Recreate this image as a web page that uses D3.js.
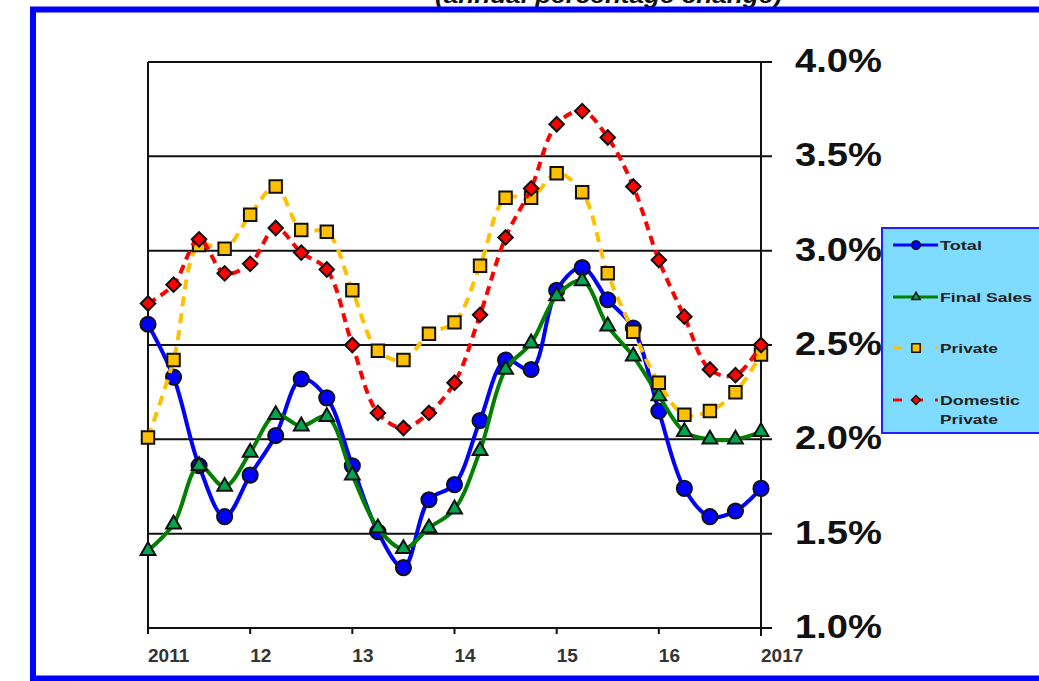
<!DOCTYPE html>
<html>
<head>
<meta charset="utf-8">
<script src="https://cdn.jsdelivr.net/npm/d3@7"></script>
<style>
  body { margin: 0; background: #fff; }
  svg { display: block; font-family: "Liberation Sans", Arial, sans-serif; }
</style>
</head>
<body>
<div id="chart"></div>
<script>
// quarterly values, 2011 Q1 .. 2017 Q1
const quarters = d3.range(25).map(i => 2011 + i * 0.25)
const total = [2.61, 2.33, 1.86, 1.59, 1.81, 2.02, 2.32, 2.22, 1.86, 1.51, 1.32, 1.68, 1.76, 2.10, 2.42, 2.37, 2.79, 2.91, 2.74, 2.59, 2.15, 1.74, 1.59, 1.62, 1.74]
const finalSales = [1.41, 1.55, 1.86, 1.75, 1.93, 2.13, 2.07, 2.12, 1.81, 1.53, 1.42, 1.53, 1.63, 1.94, 2.37, 2.51, 2.76, 2.84, 2.60, 2.44, 2.23, 2.04, 2.00, 2.00, 2.04]
const privateD = [2.01, 2.42, 3.03, 3.01, 3.19, 3.34, 3.11, 3.10, 2.79, 2.47, 2.42, 2.56, 2.62, 2.92, 3.28, 3.28, 3.41, 3.31, 2.88, 2.57, 2.30, 2.13, 2.15, 2.25, 2.45]
const domestic = [2.72, 2.82, 3.06, 2.88, 2.93, 3.12, 2.99, 2.90, 2.50, 2.14, 2.06, 2.14, 2.30, 2.66, 3.07, 3.33, 3.67, 3.74, 3.60, 3.34, 2.95, 2.65, 2.37, 2.34, 2.50]

const xTicks = [2011, 2012, 2013, 2014, 2015, 2016, 2017]
const xTickLabels = ['2011', '12', '13', '14', '15', '16', '2017']
const yTicks = [1.0, 1.5, 2.0, 2.5, 3.0, 3.5, 4.0]

const W = 1039, H = 681

let svg = d3.select('#chart').append('svg')
    .attr('width', W)
    .attr('height', H)

let x = d3.scaleLinear().domain([2011, 2017]).range([148, 761])
let y = d3.scaleLinear().domain([1, 4]).range([628, 62])

// title, cut off by the top of the page
svg.append('text')
    .attr('x', 435).attr('y', 3)
    .attr('textLength', 347)
    .attr('lengthAdjust', 'spacingAndGlyphs')
    .style('font-size', '22px')
    .style('font-weight', 'bold')
    .style('font-style', 'italic')
    .attr('fill', '#111')
    .text('(annual percentage change)')

// blue frame
svg.append('rect')
    .attr('x', 33).attr('y', 9.5)
    .attr('width', 1100).attr('height', 669)
    .attr('fill', 'none')
    .attr('stroke', '#0000ff')
    .attr('stroke-width', 6)

let plot = svg.append('g')

// gridlines + right ticks
plot.selectAll('line.grid')
    .data(yTicks.slice(1))
    .join('line')
    .attr('class', 'grid')
    .attr('x1', x(2011)).attr('x2', x(2017) + 11)
    .attr('y1', d => y(d)).attr('y2', d => y(d))
    .attr('stroke', '#111')
    .attr('stroke-width', 2)

// left border
plot.append('line')
    .attr('x1', x(2011)).attr('x2', x(2011))
    .attr('y1', y(4)).attr('y2', y(1) + 6)
    .attr('stroke', '#111').attr('stroke-width', 2)

// right axis
plot.append('line')
    .attr('x1', x(2017)).attr('x2', x(2017))
    .attr('y1', y(4)).attr('y2', y(1) + 8)
    .attr('stroke', '#111').attr('stroke-width', 2)

// bottom axis
plot.append('line')
    .attr('x1', x(2011)).attr('x2', x(2017) + 11)
    .attr('y1', y(1)).attr('y2', y(1))
    .attr('stroke', '#111').attr('stroke-width', 2)

plot.selectAll('line.xtick')
    .data(xTicks)
    .join('line')
    .attr('class', 'xtick')
    .attr('x1', d => x(d)).attr('x2', d => x(d))
    .attr('y1', y(1)).attr('y2', y(1) + 6)
    .attr('stroke', '#111').attr('stroke-width', 2)

plot.selectAll('text.xlab')
    .data(xTicks)
    .join('text')
    .attr('class', 'xlab')
    .attr('x', d => x(d))
    .attr('y', 662)
    .style('font-size', '19px')
    .style('font-weight', 'bold')
    .attr('fill', '#333')
    .text((d, i) => xTickLabels[i])

plot.selectAll('text.ylab')
    .data(yTicks)
    .join('text')
    .attr('class', 'ylab')
    .attr('x', 795)
    .attr('y', d => y(d) + 10)
    .attr('textLength', 87)
    .attr('lengthAdjust', 'spacingAndGlyphs')
    .style('font-size', '33px')
    .style('font-weight', 'bold')
    .attr('fill', '#111')
    .text(d => d.toFixed(1) + '%')

const series = [
    { name: 'Total', values: total, color: '#0000ff', fill: '#0000ff', dash: null, symbol: d3.symbolCircle, size: 180, rot: 0 },
    { name: 'Final Sales', values: finalSales, color: '#008000', fill: '#00a550', dash: null, symbol: d3.symbolTriangle, size: 95, rot: 0 },
    { name: 'Private', values: privateD, color: '#ffc000', fill: '#ffc000', dash: '10,7', symbol: d3.symbolSquare, size: 155, rot: 0 },
    { name: 'Domestic', values: domestic, color: '#ff0000', fill: '#ff0000', dash: '9,6', symbol: d3.symbolSquare, size: 105, rot: 45 }
]

let line = d3.line()
    .x((d, i) => x(quarters[i]))
    .y(d => y(d))
    .curve(d3.curveCatmullRom.alpha(0.5))

series.forEach(s => {
    let g = plot.append('g')
    g.append('path')
        .datum(s.values)
        .attr('d', line)
        .attr('fill', 'none')
        .attr('stroke', s.color)
        .attr('stroke-width', 4)
        .attr('stroke-dasharray', s.dash)
    g.selectAll('path.mark')
        .data(s.values)
        .join('path')
        .attr('class', 'mark')
        .attr('d', d3.symbol().type(s.symbol).size(s.size))
        .attr('transform', (d, i) => `translate(${x(quarters[i])},${y(d)}) rotate(${s.rot})`)
        .attr('fill', s.fill)
        .attr('stroke', '#111')
        .attr('stroke-width', 2)
})

// legend
let legend = svg.append('g')
legend.append('rect')
    .attr('x', 882).attr('y', 228)
    .attr('width', 200).attr('height', 205)
    .attr('fill', '#80dcff')
    .attr('stroke', '#2020ff')
    .attr('stroke-width', 2)

const legendY = [245, 297, 348, 400]
const legendText = [['Total'], ['Final Sales'], ['Private'], ['Domestic', 'Private']]
const legendLen = [[42], [92], [58], [80, 58]]
const legendSize = [60, 30, 70, 40]

series.forEach((s, i) => {
    let ly = legendY[i]
    legend.append('line')
        .attr('x1', 893).attr('x2', 938)
        .attr('y1', ly).attr('y2', ly)
        .attr('stroke', s.color)
        .attr('stroke-width', 3)
        .attr('stroke-dasharray', s.dash ? '9,12' : null)
    legend.append('path')
        .attr('d', d3.symbol().type(s.symbol).size(legendSize[i]))
        .attr('transform', `translate(916,${ly}) rotate(${s.rot})`)
        .attr('fill', s.fill)
        .attr('stroke', '#111')
        .attr('stroke-width', 1.5)
    legendText[i].forEach((t, j) => {
        legend.append('text')
            .attr('x', 940)
            .attr('y', ly + 5 + j * 19)
            .attr('textLength', legendLen[i][j])
            .attr('lengthAdjust', 'spacingAndGlyphs')
            .style('font-size', '13px')
            .style('font-weight', 'bold')
            .attr('fill', '#222')
            .text(t)
    })
})
</script>
</body>
</html>
